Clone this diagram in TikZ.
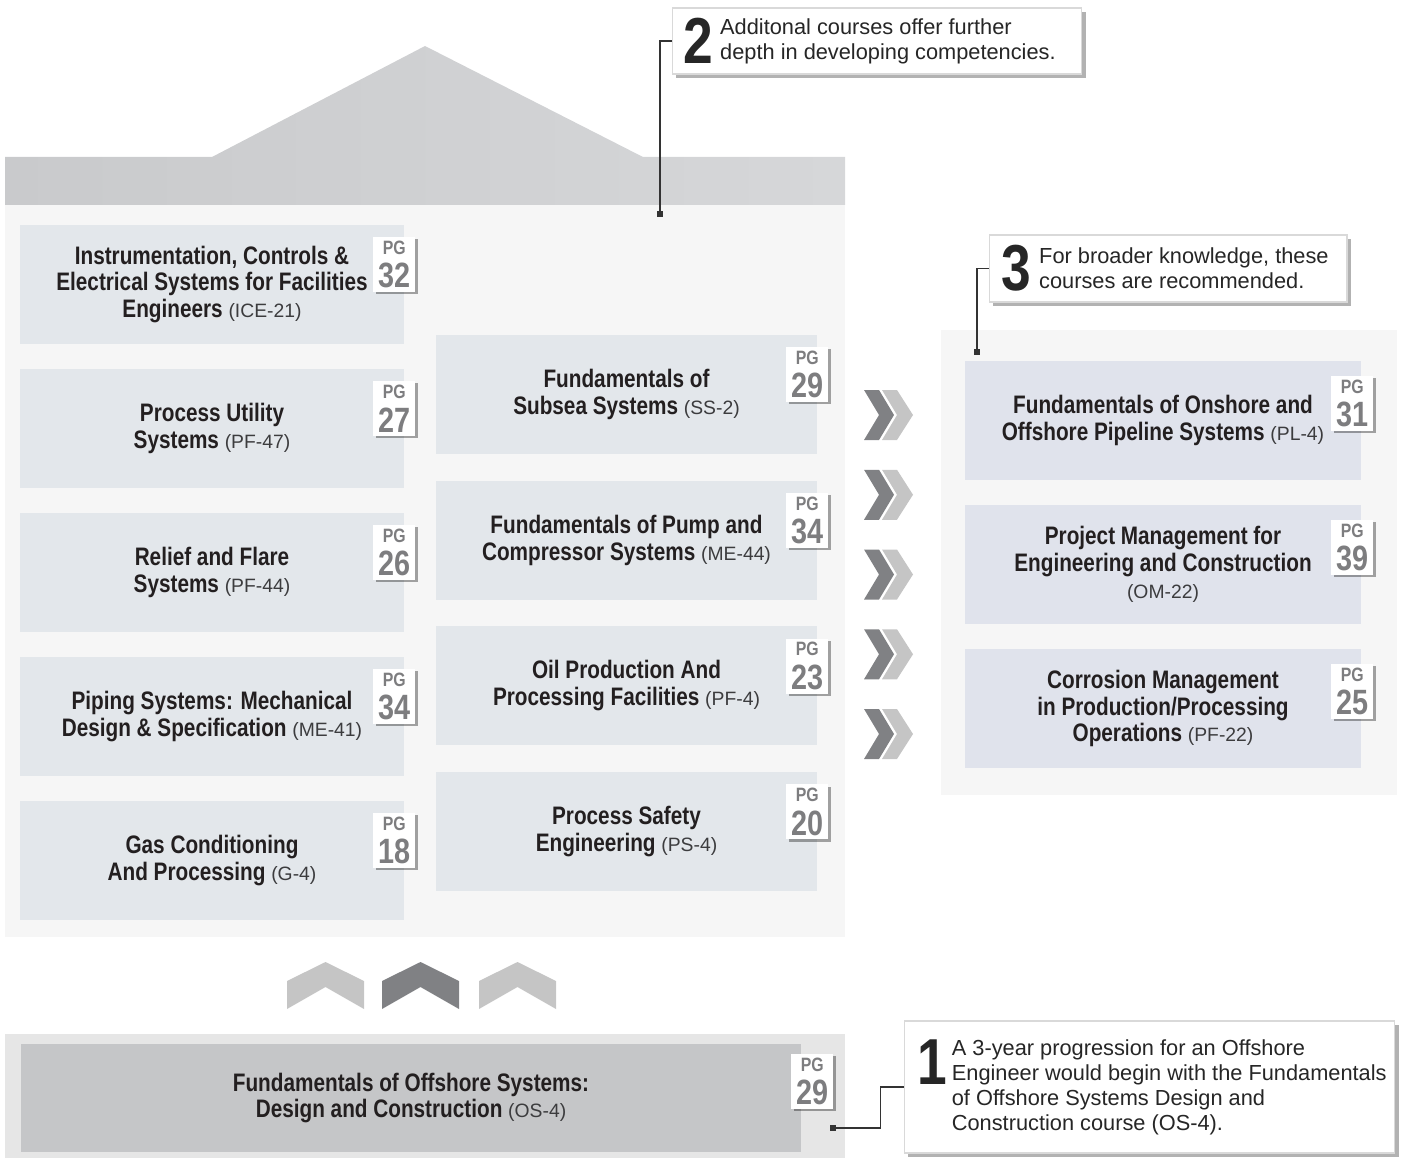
\documentclass[tikz,border=0pt]{standalone}
\usepackage{fontspec}
\setmainfont{Liberation Sans}
\newfontfamily\narrowfont{Liberation Sans}[FakeStretch=0.82]
\usetikzlibrary{positioning,shadows}
\definecolor{roofdark}{RGB}{201,202,204}
\definecolor{rooflight}{RGB}{214,215,217}
\definecolor{panelgray}{RGB}{246,246,246}
\definecolor{basegray}{RGB}{230,230,230}
\definecolor{baseinner}{RGB}{197,198,200}
\definecolor{boxblue}{RGB}{227,231,235}
\definecolor{boxlav}{RGB}{224,227,236}
\definecolor{chevdark}{RGB}{128,129,132}
\definecolor{chevlight}{RGB}{197,197,197}
\definecolor{pggray}{RGB}{125,125,127}
\definecolor{titlegray}{RGB}{35,31,32}
\definecolor{codegray}{RGB}{60,60,62}
\newcommand\cid[1]{{\normalfont\fontsize{11}{15.3}\selectfont\color{codegray}#1}}
\newcommand\pgno[1]{{\bfseries\fontsize{11}{11}\selectfont PG}\\[4pt]{\bfseries\fontsize{20}{17}\selectfont #1}}
\begin{document}
\begin{tikzpicture}[x=0.02cm, y=-0.02cm,
course/.style={fill=#1, minimum width=7.68cm, minimum height=2.38cm, inner sep=0pt, align=center,
  font=\narrowfont\bfseries\fontsize{14.4}{15.3}\selectfont, text=titlegray},
course/.default=boxblue,
badge/.style={fill=white, minimum width=0.84cm, minimum height=1.1cm, inner sep=0pt, align=center,
  font=\narrowfont\fontsize{10}{12}\selectfont, text=pggray,
  drop shadow={shadow xshift=1.3pt, shadow yshift=-1.3pt, fill=black, opacity=0.35}},
note/.style={fill=white, draw=black!15, line width=0.6pt,
  drop shadow={shadow xshift=2.5pt, shadow yshift=-2.5pt, fill=black, opacity=0.3}},
bignum/.style={font=\narrowfont\bfseries\fontsize{37}{37}\selectfont, inner sep=0pt, text=black!85},
notetext/.style={align=left, font=\fontsize{12.4}{14.2}\selectfont, inner sep=0pt, text=black!85},
lead/.style={draw=black!80, line width=0.6pt},
dot/.style={fill=black!80, minimum size=0.12cm, inner sep=0pt}]
\useasboundingbox (0,0) rectangle (1404,1159);
\shade[left color=roofdark, right color=rooflight] (5,205) -- (5,157) -- (212,157) -- (425,46) -- (643,157) -- (845,157) -- (845,205) -- cycle;
\fill[panelgray] (5,205) rectangle (845,937);
\fill[panelgray] (941,330) rectangle (1397,795);
\fill[basegray] (5,1034) rectangle (845,1158);

\foreach \t/\p [count=\n] in {
{Instrumentation, Controls \&\\Electrical Systems for Facilities\\Engineers \cid{(ICE-21)}}/32,
{Process Utility\\Systems \cid{(PF-47)}}/27,
{Relief and Flare\\Systems \cid{(PF-44)}}/26,
{Piping Systems: Mechanical\\Design \& Specification \cid{(ME-41)}}/34,
{Gas Conditioning\\And Processing \cid{(G-4)}}/18} {
\node[course] (L\n) at (212,140.5+144*\n) {\t};
\node[badge] (pgL\n) at ([shift={(-10,40)}]L\n.north east) {\pgno{\p}};
}
\foreach \t/\p [count=\n] in {
{Fundamentals of\\Subsea Systems \cid{(SS-2)}}/29,
{Fundamentals of Pump and\\Compressor Systems \cid{(ME-44)}}/34,
{Oil Production And\\Processing Facilities \cid{(PF-4)}}/23,
{Process Safety\\Engineering \cid{(PS-4)}}/20} {
\node[course, minimum width=7.62cm] (M\n) at (626.5,248.8+145.7*\n) {\t};
\node[badge] (pgM\n) at ([shift={(-10,40)}]M\n.north east) {\pgno{\p}};
}
\foreach \t/\p [count=\n] in {
{Fundamentals of Onshore and\\Offshore Pipeline Systems \cid{(PL-4)}}/31,
{Project Management for\\Engineering and Construction\\\cid{(OM-22)}}/39,
{Corrosion Management\\in Production/Processing\\Operations \cid{(PF-22)}}/25} {
\node[course=boxlav, minimum width=7.92cm] (R\n) at (1163,276.5+144*\n) {\t};
\node[badge] (pgR\n) at ([shift={(-9,43)}]R\n.north east) {\pgno{\p}};
}

\foreach \y in {415,494.75,574.5,654.25,734} {
\fill[chevdark] (864,\y-25) -- (879,\y-25) -- (894,\y) -- (879,\y+25) -- (864,\y+25) -- (879,\y) -- cycle;
\fill[chevlight] (882,\y-25) -- (897,\y-25) -- (913,\y) -- (897,\y+25) -- (882,\y+25) -- (897,\y) -- cycle;
}
\foreach \x/\c in {325.5/chevlight, 420.5/chevdark, 517.5/chevlight} {
\fill[\c] (\x-38.5,981) -- (\x,962) -- (\x+38.5,981) -- (\x+38.5,1009) -- (\x,987) -- (\x-38.5,1009) -- cycle;
}

\node[course=baseinner, minimum width=15.6cm, minimum height=2.16cm] (base) at (411,1098)
  {Fundamentals of Offshore Systems:\\Design and Construction \cid{(OS-4)}};
\node[badge] (pgbase) at ([shift={(11,38)}]base.north east) {\pgno{29}};

\node[note, minimum width=8.2cm, minimum height=1.32cm] (note2) at (877,41) {};
\node[bignum, anchor=west] (n2) at ([xshift=0.24cm]note2.west) {2};
\node[notetext, right=0.12cm of n2] (t2) {Additonal courses offer further\\depth in developing competencies.};

\node[note, minimum width=7.16cm, minimum height=1.34cm] (note3) at (1168,268.5) {};
\node[bignum, anchor=west] (n3) at ([xshift=0.26cm]note3.west) {3};
\node[notetext, right=0.14cm of n3] (t3) {For broader knowledge, these\\courses are recommended.};

\node[note, minimum width=9.82cm, minimum height=2.64cm] (note1) at (1149.5,1087) {};
\node[bignum, anchor=north west] (n1) at ([shift={(14,19)}]note1.north west) {1};
\node[notetext, anchor=west] (t1) at ([xshift=0.96cm]note1.west)
  {A 3-year progression for an Offshore\\Engineer would begin with the Fundamentals\\of Offshore Systems Design and\\Construction course (OS-4).};

\node[dot] (dot2) at (660,214) {};
\node[dot] (dot3) at (977,352) {};
\node[dot] (dot1) at (833,1128) {};
\draw[lead] (note2.west) -| (dot2.center);
\draw[lead] (note3.west) -| (dot3.center);
\draw[lead] (note1.west) -- ++(-23,0) |- (dot1.center);
\end{tikzpicture}
\end{document}
